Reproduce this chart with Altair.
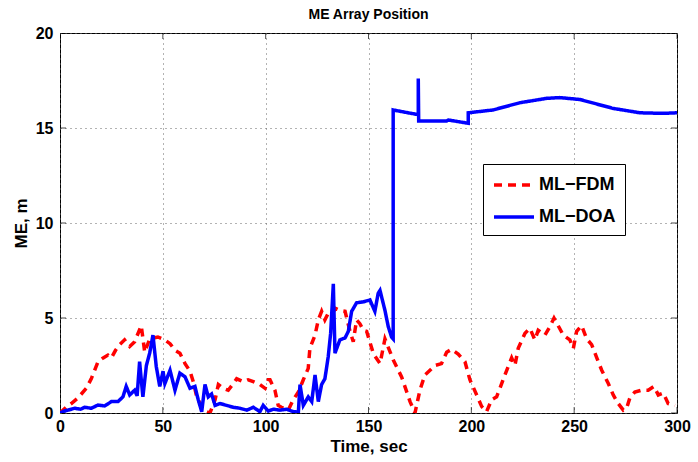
import altair as alt
import pandas as pd

# ML-FDM series (time in sec, ME in m)
t_fdm = [0, 3, 5.5, 8.8, 12.8, 15.2, 18.5, 21, 23.3, 25, 27, 29, 31.4, 33.9, 36.3, 39.5, 41.2, 43.6,
         47.6, 50.9, 53.5, 55.9, 58.3, 60.8, 63.2, 64.8, 66.5, 69, 71.3, 72.9, 75.4, 77, 79.4, 81.8,
         84.3, 85.9, 89.1, 91.5, 94, 97.2, 99.7, 101.3, 102.1, 104.5, 106.1, 107.7, 111, 113.4, 115.9,
         118.3, 120.7, 121.5, 124, 125.6, 127.2, 128.8, 130.4, 132, 134, 136.1, 138.6, 141, 142.6,
         144.2, 145.8, 147.5, 149.1, 152.3, 153.1, 155.6, 158, 162, 166.1, 170.2, 172.6, 175, 177.4,
         179.9, 182.3, 185.5, 188, 190.4, 193.6, 196.9, 199.3, 202.6, 205, 207.4, 209.9, 212.3, 213.9,
         216.3, 219.6, 221.2, 222.8, 226.1, 228.5, 230.9, 232.5, 235.8, 238.2, 240.2, 242.2, 244.7,
         247.9, 249.6, 251.2, 253.6, 256.1, 258.5, 261, 263.4, 266.6, 269, 271.4, 273.9, 275.5, 277.1,
         279.5, 282.8, 286, 288.8, 290.9, 293.3, 295.7, 299]
v_fdm = [0, 0.3, 0.5, 0.8, 1.3, 1.8, 2.7, 2.9, 3.05, 2.9, 3.3, 3.6, 3.85, 3.5, 3.75, 4.6, 3.2, 3.9,
         4.0, 3.85, 3.65, 3.3, 3.15, 2.6, 2.2, 1.65, 0.85, 0.3, 0.07, 0, 0.7, 1.5, 1.3, 1.2,
         1.55, 1.8, 1.65, 1.75, 1.65, 1.5, 1.3, 1.75, 1.75, 1.2, 0.4, 0.3, 0.15, 0.7, 1.1,
         1.75, 2.35, 3.4, 4.1, 4.9, 5.35, 4.9, 5.25, 5.2, 5.5, 5.4, 5.35, 4.3, 3.75,
         4.9, 4.7, 4.35, 4.3, 3.15, 3.0, 2.6, 3.9, 2.8, 1.9, 0.6, 0, 1.2, 2.0,
         2.25, 2.5, 2.6, 3.2, 3.35, 3.1, 2.7, 1.75, 0.95, 0.35, 0.07, 0.7, 0.85, 1.3,
         2.0, 2.9, 2.5, 3.4, 4.2, 4.45, 3.85, 4.35, 4.1, 4.55, 5.0, 4.6, 4.1,
         3.85, 3.4, 4.3, 4.6, 3.9, 3.6, 2.9, 2.25, 1.55, 0.95, 0.5, 0.15, 0.25, 0.8,
         1.1, 1.2, 1.2, 1.4, 0.95, 1.05, 0.5, 0.4]

# ML-DOA series
t_doa = [0, 2, 3.9, 7.1, 10, 12, 15.2, 18.5, 21.7, 25, 28.2, 30.6, 32.2, 33.9, 36.3, 37.5, 38.7, 40.3,
         42, 43.6, 45.2, 46.8, 48.5, 50.1, 51, 53.5, 55.9, 58.3, 60.8, 63.2, 65.6, 67.2, 68.9, 70.5,
         72.1, 73.7, 75.4, 77.8, 81, 84.3, 87.5, 90.8, 94, 97.2, 98.8, 101.3, 103.7, 107, 110.2, 113.4,
         115.9, 116.7, 118.3, 120.7, 122.4, 124, 125.6, 127.2, 128.8, 130.4, 131.6, 132.9, 133.7,
         136.1, 138.6, 140.2, 141.8, 144.2, 147.5, 150.7, 153.1, 154.7, 155.6, 158, 159.6, 161.2, 162,
         162, 174.2, 174.2, 174.4, 188, 188.8, 198.5, 198.5, 210.6, 223.6, 236.6, 243, 252.8, 269, 282,
         293.3, 300]
v_doa = [0, 0.1, 0.15, 0.25, 0.2, 0.3, 0.25, 0.42, 0.37, 0.6, 0.6, 0.85, 1.4, 0.95, 1.2, 0.9, 2.7, 0.85,
         2.5, 3.15, 4.1, 2.45, 1.4, 2.2, 1.55, 2.25, 1.2, 2.1, 1.9, 1.3, 1.4, 0.7, 0.07, 1.5,
         0.85, 1.0, 0.4, 0.5, 0.4, 0.3, 0.25, 0.15, 0.3, 0.07, 0.4, 0.1, 0.2, 0.15, 0.2, 0.07,
         0.05, 1.5, 0.4, 0.85, 0.6, 2.0, 0.6, 1.5, 1.8, 2.95, 4.2, 6.8, 3.15,
         3.85, 3.95, 4.3, 5.35, 5.8, 5.85, 5.95, 5.35, 6.3, 6.45, 5.4, 4.55, 4.0, 3.9,
         15.95, 15.7, 17.6, 15.37, 15.37, 15.42, 15.25, 15.8, 15.95, 16.33, 16.56, 16.6, 16.5, 16.03, 15.8,
         15.77, 15.8]

series_names = ["ML−FDM", "ML−DOA"]
series_colors = ["#ff0000", "#0000ff"]
x_ticks = [0, 50, 100, 150, 200, 250, 300]
y_ticks = [0, 5, 10, 15, 20]

rows = []
for i, (t, v) in enumerate(zip(t_fdm, v_fdm)):
    rows.append({"t": t, "v": v, "s": series_names[0], "i": i})
for i, (t, v) in enumerate(zip(t_doa, v_doa)):
    rows.append({"t": t, "v": v, "s": series_names[1], "i": i})
df = pd.DataFrame(rows)

xt = pd.DataFrame([{"t": x, "v": y} for x in x_ticks for y in (y_ticks[0], y_ticks[-1])])
yt = pd.DataFrame([{"t": x, "v": y} for y in y_ticks for x in (x_ticks[0], x_ticks[-1])])

FONT = "Liberation Sans"
xscale = alt.Scale(domain=[0, 300], nice=False)
yscale = alt.Scale(domain=[0, 20], nice=False)

x_enc = alt.X("t:Q", scale=xscale, title="Time, sec",
              axis=alt.Axis(values=x_ticks, grid=True, ticks=False, domain=False,
                            labelFlush=False, labelPadding=5, titlePadding=4))
y_enc = alt.Y("v:Q", scale=yscale, title="ME, m",
              axis=alt.Axis(values=y_ticks, grid=True, ticks=False, domain=False,
                            labelFlush=False, labelPadding=7, titlePadding=5))

LEG = dict(orient="none", legendX=423, legendY=131)
lines = alt.Chart(df).mark_line(strokeWidth=3.5, clip=True).encode(
    x=x_enc,
    y=y_enc,
    color=alt.Color("s:N", scale=alt.Scale(domain=series_names, range=series_colors),
                    title=None,
                    legend=alt.Legend(**LEG,
                                      symbolType="M-1,0L3,0", symbolSize=400,
                                      symbolStrokeWidth=3.5, labelFontSize=18,
                                      labelFont=FONT, labelFontWeight="bold",
                                      labelColor="black", padding=9, rowPadding=11,
                                      labelOffset=23, strokeColor="black",
                                      fillColor="white", labelLimit=200)),
    strokeDash=alt.StrokeDash("s:N", scale=alt.Scale(domain=series_names, range=[[8, 6], [1, 0]]),
                              title=None, legend=alt.Legend(**LEG)),
    order=alt.Order("i:Q"),
)

xticks = alt.Chart(xt).mark_tick(orient="vertical", size=12, thickness=1, color="black",
                                 clip=True).encode(
    x=alt.X("t:Q", scale=xscale), y=alt.Y("v:Q", scale=yscale))
yticks = alt.Chart(yt).mark_tick(orient="horizontal", size=12, thickness=1, color="black",
                                 clip=True).encode(
    x=alt.X("t:Q", scale=xscale), y=alt.Y("v:Q", scale=yscale))

chart = alt.layer(xticks, yticks, lines).properties(
    width=617, height=380,
    background="white",
    title=alt.TitleParams("ME Array Position", fontSize=14, font=FONT, fontWeight="bold",
                          color="black", offset=3),
    autosize=alt.AutoSizeParams(type="none"),
    padding={"left": 60, "top": 33, "right": 21, "bottom": 49},
).configure_view(
    stroke="black", strokeWidth=1
).configure_axis(
    labelFont=FONT, labelFontSize=16, labelFontWeight="bold", labelColor="black",
    titleFont=FONT, titleFontSize=17, titleFontWeight="bold", titleColor="black",
    gridColor="#666666", gridDash=[1, 4], gridOpacity=1, gridWidth=1,
)

chart.save("out.html", embed_options={"renderer": "svg", "actions": False})
